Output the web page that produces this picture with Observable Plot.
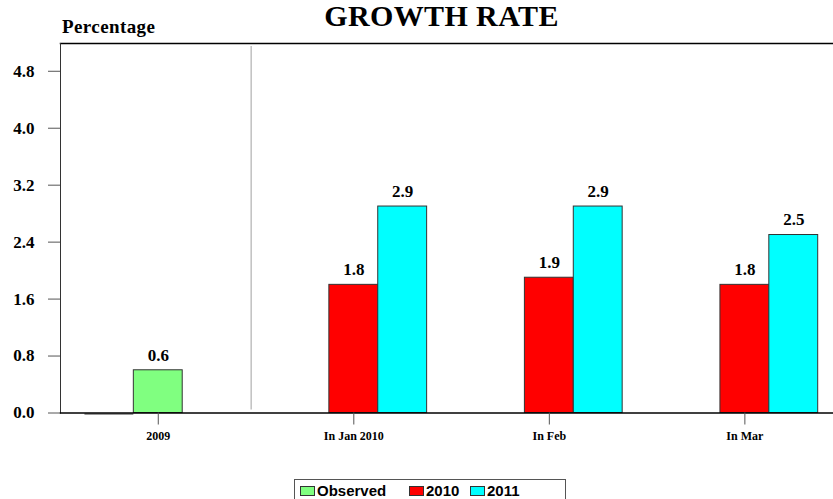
<!DOCTYPE html>
<html>
<head>
<meta charset="utf-8">
<script src="https://cdn.jsdelivr.net/npm/d3@7"></script>
<script src="https://cdn.jsdelivr.net/npm/@observablehq/plot@0.6"></script>
<style>
  html, body { margin: 0; padding: 0; background: #fff; }
  #wrap { position: relative; width: 833px; height: 499px; overflow: hidden; }
  #title { position: absolute; left: 0; width: 883px; top: 1px; text-align: center; font: bold 30px "Liberation Serif", serif; letter-spacing: 0.4px; line-height: 30px; color: #000; }
  #ylab { position: absolute; left: 62px; top: 17px; font: bold 19px "Liberation Serif", serif; letter-spacing: 0.4px; line-height: 19px; color: #000; }
  #legend { position: absolute; left: 294px; top: 479px; width: 272px; height: 40px; border: 1px solid #555; box-sizing: border-box; font: bold 15px "Liberation Sans", Arial, sans-serif; }
  .item { position: absolute; top: 3px; display: flex; align-items: center; line-height: 15px; }
  .sw { width: 13px; height: 8px; border: 1px solid #333; margin-right: 2px; }
</style>
</head>
<body>
<div id="wrap">
  <div id="chart"></div>
  <div id="title">GROWTH RATE</div>
  <div id="ylab">Percentage</div>
  <div id="legend"></div>
</div>
<script>
// ---- data ----
const categories = ["2009", "In Jan 2010", "In Feb", "In Mar"];
const legendKeys = ["Observed", "2010", "2011"];
const legendColors = ["#80ff80", "#ff0000", "#00ffff"];
const firstSeries = ["2010", "2010", "2010", "2010"];
const firstValues = [0, 1.8, 1.9, 1.8];
const secondSeries = ["Observed", "2011", "2011", "2011"];
const secondValues = [0.6, 2.9, 2.9, 2.5];
const yTicks = [0, 0.8, 1.6, 2.4, 3.2, 4.0, 4.8];

// ---- layout (in bar-width units, like R barplot space) ----
const groupSpace = [0.5, 3, 2, 2];
const starts = [];
{ let acc = 0; groupSpace.forEach((s, g) => { acc += s; starts.push(acc); acc += 2; }); }
const tickPos = categories.map((c, g) => 4 * g + 2);
const divider = 3.9;

const bars = [];
categories.forEach((c, g) => {
  bars.push({cat: c, series: firstSeries[g], value: firstValues[g], x1: starts[g], x2: starts[g] + 1});
  bars.push({cat: c, series: secondSeries[g], value: secondValues[g], x1: starts[g] + 1, x2: starts[g] + 2});
});

const unit = (817.7 - 60) / 15.5;
const serif = "Liberation Serif, serif";

const chart = Plot.plot({
  width: 833,
  height: 499,
  marginLeft: 60,
  marginRight: 0,
  marginTop: 43,
  marginBottom: 86.5,
  style: {fontFamily: serif, fontWeight: "bold", color: "#000", background: "#fff"},
  x: {type: "linear", domain: [0, (833 - 60) / unit], axis: null},
  y: {domain: [0, 5.19], axis: null},
  color: {domain: legendKeys, range: legendColors},
  marks: [
    Plot.ruleX([divider], {stroke: "#b0b0b0", strokeWidth: 1.2, insetTop: 3, insetBottom: 3}),
    Plot.rect(bars.filter(d => d.value > 0), {x1: "x1", x2: "x2", y1: 0, y2: "value", fill: "series", stroke: "#333", strokeWidth: 1}),
    Plot.ruleY(bars.filter(d => d.value === 0), {x1: "x1", x2: "x2", y: "value", stroke: "#333", strokeWidth: 1, dy: 1}),
    Plot.text(bars.filter(d => d.value > 0), {
      x: d => (d.x1 + d.x2) / 2, y: "value", text: d => d.value.toFixed(1),
      dy: -15, fontSize: 17, fontWeight: "bold", fill: "#000"
    }),
    Plot.frame({anchor: "top", stroke: "#000", strokeWidth: 1.5}),
    Plot.frame({anchor: "left", stroke: "#333", strokeWidth: 1}),
    Plot.frame({anchor: "bottom", stroke: "#000", strokeWidth: 1.5}),
    Plot.axisY(yTicks, {
      label: null, tickSize: 12, tickPadding: 14, tickFormat: d => d.toFixed(1),
      fontSize: 17, fontWeight: "bold", stroke: "#555", fill: "#000"
    }),
    Plot.axisX(tickPos, {
      label: null, anchor: "bottom", tickSize: 12, tickPadding: 6,
      tickFormat: (d, i) => categories[i],
      fontSize: 12, fontWeight: "bold", stroke: "#555", fill: "#000"
    })
  ]
});
document.getElementById("chart").appendChild(chart);

// ---- legend ----
const legendLeft = [5, 114, 175];
const legend = document.getElementById("legend");
legendKeys.forEach((k, i) => {
  const it = document.createElement("div");
  it.className = "item";
  it.style.left = legendLeft[i] + "px";
  const sw = document.createElement("div");
  sw.className = "sw";
  sw.style.background = legendColors[i];
  const tx = document.createElement("span");
  tx.textContent = k;
  it.appendChild(sw); it.appendChild(tx);
  legend.appendChild(it);
});
</script>
</body>
</html>
